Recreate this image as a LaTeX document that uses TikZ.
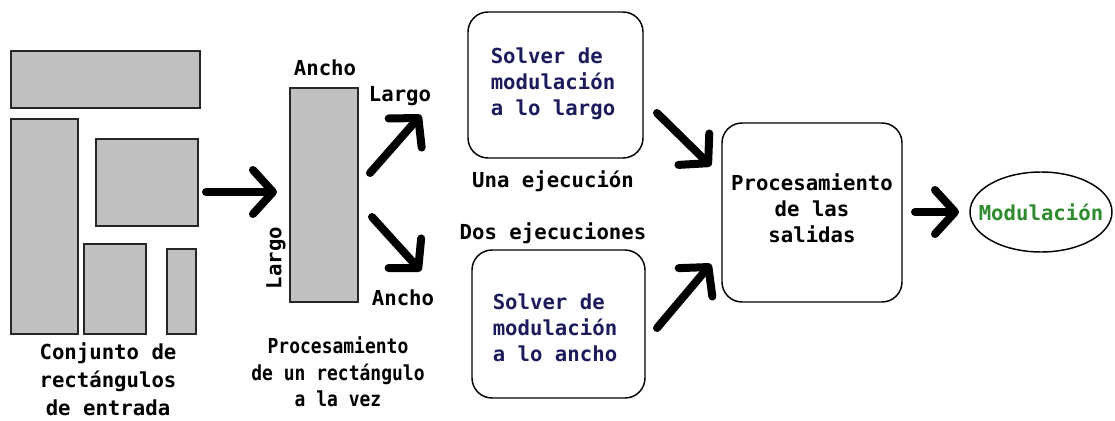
\documentclass[tikz,border=0pt]{standalone}
\usepackage{fontspec}
\setmainfont{DejaVu Sans Mono}
\newfontfamily\condmono{DejaVu Sans Mono}[FakeStretch=0.87]
\usetikzlibrary{arrows.meta,fit,shapes.geometric}
\definecolor{rgray}{HTML}{C0C0C0}
\definecolor{navy}{HTML}{1C1C5C}
\definecolor{mgreen}{HTML}{2E8B2E}
\tikzset{
  grect/.style={draw=black!85,line width=1.3pt,fill=rgray,inner sep=0pt},
  rbox/.style={draw=black,line width=1.1pt,rounded corners=15pt,inner sep=0pt,align=left},
  lbl/.style={font=\bfseries\fontsize{15.5}{19.5}\selectfont,inner sep=0pt,align=center},
  fat/.style={line width=6pt,line cap=round,-{Straight Barb[round,length=15pt,width=33pt]}},
}
\begin{document}
\begin{tikzpicture}[x=0.75pt,y=-0.75pt]
\useasboundingbox (0,0) rectangle (1115,421);
% input rectangles
\node[grect,fit={(11,51) (200,108)}] (r1) {};
\node[grect,fit={(11,119) (78,334)}] (r2) {};
\node[grect,fit={(96,139) (198,226)}] (r3) {};
\node[grect,fit={(84,244) (146,334)}] (r4) {};
\node[grect,fit={(167,249) (196,334)}] (r5) {};
\node[lbl,font=\bfseries\fontsize{15.5}{21}\selectfont] (cap1) at (108,379) {Conjunto de\\rectángulos\\de entrada};
% middle rectangle
\node[grect,fit={(290,88) (358,302)}] (rm) {};
\node[lbl] (anchoT) at (325,68) {Ancho};
\node[lbl,rotate=90] (largoL) at (276,258) {Largo};
\node[lbl] (largoR) at (400,96) {Largo};
\node[lbl] (anchoB) at (403,298) {Ancho};
\node[lbl,font=\bfseries\condmono\fontsize{15.5}{20}\selectfont] (cap2) at (338,372) {Procesamiento\\de un rectángulo\\a la vez};
% arrows
\coordinate (a1s) at (206,192);
\coordinate (a1e) at (277,192);
\draw[fat] (a1s) -- (a1e);
\coordinate (a2s) at (370,173);
\coordinate (a2e) at (421,115);
\draw[fat] (a2s) -- (a2e);
\coordinate (a3s) at (372,217);
\coordinate (a3e) at (421,271);
\draw[fat] (a3s) -- (a3e);
% solver boxes
\node[rbox,fit={(468,12) (643,158)}] (b1) {};
\node[lbl,align=left,text=navy] (b1t) at (553,84) {Solver de\\modulación\\a lo largo};
\node[lbl] (una) at (553,181) {Una ejecución};
\node[lbl] (dos) at (553,233) {Dos ejecuciones};
\node[rbox,fit={(472,250) (645,398)}] (b2) {};
\node[lbl,align=left,text=navy] (b2t) at (555,328) {Solver de\\modulación\\a lo ancho};
% arrows to output processing
\coordinate (a4s) at (657,113);
\coordinate (a4e) at (711,166);
\draw[fat] (a4s) -- (a4e);
\coordinate (a5s) at (657,328);
\coordinate (a5e) at (711,264);
\draw[fat] (a5s) -- (a5e);
\node[rbox,fit={(722,123) (902,302)}] (b3) {};
\node[lbl] (b3t) at (812,208) {Procesamiento\\de las\\salidas};
% final
\coordinate (a6s) at (915,212);
\coordinate (a6e) at (959,212);
\draw[fat] (a6s) -- (a6e);
\node[draw=black,line width=1.1pt,ellipse,minimum width=106.5pt,minimum height=60pt,inner sep=0pt] (mod) at (1041,212) {};
\node[lbl,text=mgreen] (modt) at (mod) {Modulación};
\end{tikzpicture}
\end{document}
